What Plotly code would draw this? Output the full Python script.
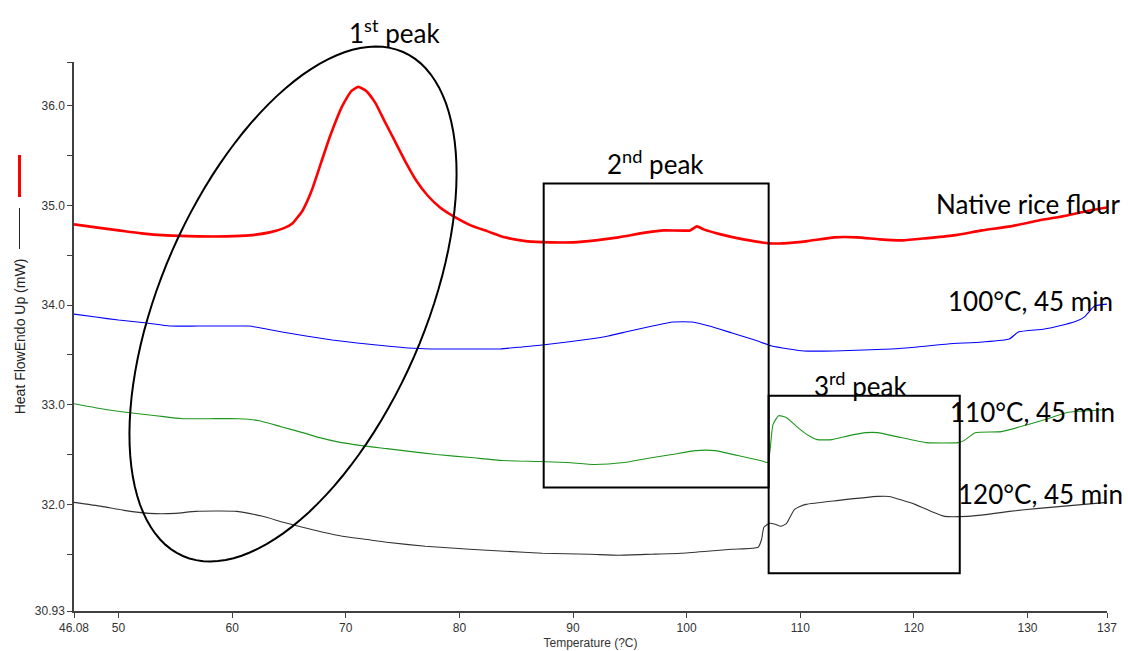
import math
import plotly.graph_objects as go

# ---------------- data ----------------
native_T = [46.08, 48, 50, 52, 54.2, 57, 59.5, 61.5, 63.3, 64.5, 65.3, 66.2, 67.0, 67.8, 68.6,
            69.7, 70.5, 71.1, 71.8, 72.6, 73.4, 74.3, 75.2, 76.2, 77.2, 78.3, 79.5, 81, 82.5,
            84, 86, 88, 90, 92, 94, 96.5, 98, 100.3, 100.9, 101.5, 103, 105, 107.3, 108.5,
            110.5, 113, 115, 117, 119, 121, 123.5, 126, 128.5, 131, 133.5, 135.5, 137]
native_v = [34.81, 34.78, 34.75, 34.72, 34.70, 34.69, 34.69, 34.70, 34.73, 34.77, 34.82, 34.95,
            35.15, 35.42, 35.69, 36.00, 36.15, 36.19, 36.15, 36.03, 35.85, 35.65, 35.45, 35.25,
            35.10, 34.98, 34.89, 34.80, 34.74, 34.68, 34.64, 34.63, 34.63, 34.65, 34.68, 34.73,
            34.75, 34.75, 34.79, 34.76, 34.71, 34.66, 34.62, 34.62, 34.64, 34.68, 34.68, 34.66,
            34.65, 34.67, 34.70, 34.75, 34.79, 34.85, 34.90, 34.95, 34.98]

t100_T = [46.08, 48, 50, 52.5, 54.5, 57, 60, 61.5, 63, 64.4, 66.5, 68.8, 71, 73.6, 75.5, 77.4,
          80, 83.6, 85.5, 87.3, 89.5, 91.5, 93.1, 95, 97, 98.8, 100.5, 102, 104, 106, 107.5,
          109, 110.3, 113, 115.6, 118, 120.3, 123, 126, 128.4, 129.2, 131.5, 134.1, 135.0,
          135.9, 137]
t100_v = [33.91, 33.88, 33.85, 33.82, 33.79, 33.79, 33.79, 33.79, 33.76, 33.73, 33.69, 33.65,
          33.62, 33.59, 33.57, 33.56, 33.56, 33.56, 33.58, 33.60, 33.63, 33.66, 33.69, 33.74,
          33.79, 33.83, 33.83, 33.79, 33.72, 33.65, 33.59, 33.56, 33.54, 33.54, 33.55, 33.56,
          33.58, 33.61, 33.63, 33.66, 33.73, 33.76, 33.83, 33.88, 33.99, 34.01]

t110_T = [46.08, 48.5, 51, 53.3, 55.6, 58, 60.6, 62.4, 64.3, 66.2, 67.7, 69.2, 71.4, 73.6, 75.8,
          78.0, 81, 83.8, 87, 89.5, 91.9, 94.5, 96.5, 98.7, 100.8, 102.5, 104.5, 106.5, 107.15,
          107.35, 107.6, 108.1, 108.8, 109.8, 110.6, 111.5, 112.8, 114.3, 115.8, 116.8, 118.5,
          121.1, 123.9, 124.4, 125.4, 127.7, 130.0, 131.8, 133.4, 135.2, 137]
t110_v = [33.01, 32.96, 32.92, 32.89, 32.86, 32.86, 32.86, 32.84, 32.78, 32.72, 32.67, 32.63,
          32.59, 32.56, 32.53, 32.50, 32.47, 32.44, 32.43, 32.42, 32.40, 32.42, 32.46, 32.50,
          32.54, 32.54, 32.49, 32.44, 32.42, 32.55, 32.80, 32.89, 32.87, 32.77, 32.70, 32.65,
          32.65, 32.69, 32.72, 32.72, 32.68, 32.62, 32.62, 32.64, 32.72, 32.73, 32.80, 32.86,
          32.92, 32.94, 32.95]

t120_T = [46.08, 48.5, 50.5, 52.7, 55, 56.8, 60.4, 62.7, 64.5, 66.2, 68, 69.7, 71.7, 73.6, 77,
          80.9, 84, 87.3, 91.5, 94, 96.9, 99.5, 101.8, 104, 106.3, 106.6, 106.8, 107.3, 107.8,
          108.3, 108.8, 109.5, 110.5, 113.4, 116.8, 117.8, 120.1, 121.5, 122.7, 124.7, 126.5,
          128.4, 131, 134, 137]
t120_v = [32.02, 31.98, 31.94, 31.91, 31.91, 31.93, 31.93, 31.88, 31.82, 31.77, 31.72, 31.68,
          31.65, 31.62, 31.58, 31.55, 31.53, 31.51, 31.50, 31.49, 31.50, 31.51, 31.53, 31.55,
          31.57, 31.65, 31.77, 31.81, 31.80, 31.78, 31.81, 31.95, 32.00, 32.04, 32.08, 32.08,
          32.00, 31.93, 31.88, 31.88, 31.90, 31.93, 31.96, 31.99, 32.02]

series_names = ["Native rice flour", "100°C, 45 min", "110°C, 45 min", "120°C, 45 min"]

x_tickvals = [46.08, 50, 60, 70, 80, 90, 100, 110, 120, 130, 137]
x_ticktext = ["46.08", "50", "60", "70", "80", "90", "100", "110", "120", "130", "137"]
y_tickvals = [30.93, 32.0, 33.0, 34.0, 35.0, 36.0]
y_ticktext = ["30.93", "32.0", "33.0", "34.0", "35.0", "36.0"]
y_minor = [31.5, 32.5, 33.5, 34.5, 35.5, 36.44]

# peak boxes (data coordinates)
box2 = dict(x0=87.42, x1=107.22, y0=32.17, y1=35.22)
box3 = dict(x0=107.22, x1=124.04, y0=31.31, y1=33.09)

# ---------------- layout geometry ----------------
FW, FH = 1128, 651
ML, MR, MT, MB = 74, 21, 62, 40
PW, PH = FW - ML - MR, FH - MT - MB
XR = [46.08, 137]
YR = [30.93, 36.44]


def pxp(px, py):
    return (px - ML) / PW, 1 - (py - MT) / PH


fig = go.Figure()
styles = [("#FF0000", 2.6), ("#0000FF", 1.1), ("#1E961E", 1.1), ("#333333", 1.1)]
for (xs, ys), name, (col, w) in zip(
        [(native_T, native_v), (t100_T, t100_v), (t110_T, t110_v), (t120_T, t120_v)],
        series_names, styles):
    fig.add_trace(go.Scatter(x=xs, y=ys, mode="lines", name=name,
                             line=dict(color=col, width=w, shape="spline", smoothing=0.5),
                             hoverinfo="x+y+name"))

shapes = []
for b in (box2, box3):
    shapes.append(dict(type="rect", xref="x", yref="y", line=dict(color="black", width=2),
                       fillcolor="rgba(0,0,0,0)", **b))

# rotated ellipse around first peak (pixel geometry -> paper coords)
cx, cy, a, bb, phi = 293, 304, 275, 132, math.radians(66.4)
pts = []
for i in range(121):
    t = 2 * math.pi * i / 120
    px = cx + a * math.cos(t) * math.cos(phi) + bb * math.sin(t) * math.sin(phi)
    py = cy - a * math.cos(t) * math.sin(phi) + bb * math.sin(t) * math.cos(phi)
    pts.append(pxp(px, py))
path = "M " + " L ".join(f"{x:.5f},{y:.5f}" for x, y in pts) + " Z"
shapes.append(dict(type="path", xref="paper", yref="paper", path=path,
                   line=dict(color="black", width=2)))

# little legend marks beside the y-axis title
for (y0, y1), col, w in [((155, 197), "#FF0000", 3), ((208, 249), "#222222", 1)]:
    xa, ya = pxp(19.5, y0)
    _, yb = pxp(19.5, y1)
    shapes.append(dict(type="line", xref="paper", yref="paper", x0=xa, x1=xa, y0=ya, y1=yb,
                       line=dict(color=col, width=w)))

ann_font = dict(family="Lato, Carlito, sans-serif", size=26, color="black")
annotations = []
for text, (px, py), anchor in [
    ("1<sup>st</sup> peak", (394, 31), "center"),
    ("2<sup>nd</sup> peak", (655, 162), "center"),
    ("3<sup>rd</sup> peak", (860, 384), "center"),
    (series_names[0], (934, 204), "left"),
    (series_names[1], (946, 301), "left"),
    (series_names[2], (948, 412), "left"),
    (series_names[3], (956, 494), "left"),
]:
    x, y = pxp(px, py)
    annotations.append(dict(text=text, x=x, y=y, xref="paper", yref="paper", showarrow=False,
                            xanchor=anchor, yanchor="middle", font=ann_font))

tick_font = dict(family="Liberation Sans, Arial, sans-serif", size=12, color="#333333")
title_font = dict(family="Liberation Sans, Arial, sans-serif", size=14, color="#222222")
fig.update_layout(
    width=FW, height=FH, autosize=False,
    margin=dict(l=ML, r=MR, t=MT, b=MB, pad=0),
    paper_bgcolor="white", plot_bgcolor="white",
    showlegend=False,
    shapes=shapes, annotations=annotations,
    xaxis=dict(range=XR, tickmode="array", tickvals=x_tickvals, ticktext=x_ticktext,
               showgrid=False, zeroline=False, showline=True, linecolor="#404040", linewidth=1.5,
               ticks="outside", ticklen=5, tickcolor="#404040", tickfont=tick_font,
               title=dict(text="Temperature (?C)", font=tick_font, standoff=4),
               automargin=False),
    yaxis=dict(range=YR, tickmode="array", tickvals=y_tickvals, ticktext=y_ticktext,
               showgrid=False, zeroline=False, showline=True, linecolor="#404040", linewidth=1.5,
               ticks="outside", ticklen=5, tickcolor="#404040", tickfont=tick_font,
               minor=dict(tickmode="array", tickvals=y_minor, ticks="outside", ticklen=5,
                          tickcolor="#404040", showgrid=False),
               title=dict(text="Heat FlowEndo Up (mW)", font=title_font, standoff=6),
               automargin=False),
)

fig.write_html("out.html", config={"displayModeBar": False, "responsive": False},
               post_script="document.body.style.margin='0';")
